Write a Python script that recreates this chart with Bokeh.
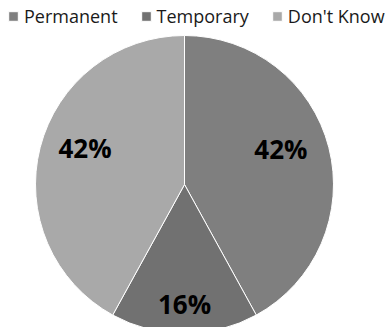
import math
from bokeh.plotting import figure
from bokeh.models import Range1d, Legend, LegendItem, ColumnDataSource
from bokeh.core.properties import value
from bokeh.embed import file_html
from bokeh.resources import INLINE

categories = ["Permanent", "Temporary", "Don't Know"]
shares = [42, 16, 42]
colors = ["#7f7f7f", "#717171", "#a9a9a9"]

W, H = 387, 327
cx, cy, R = 184, H - 184, 149

p = figure(width=W, height=H, output_backend="svg", toolbar_location=None,
           x_range=Range1d(0, W), y_range=Range1d(0, H), min_border=0)
p.axis.visible = False
p.grid.visible = False
p.outline_line_color = None
p.background_fill_color = "white"

total = sum(shares)
start = math.pi / 2
starts, ends, mids = [], [], []
for s in shares:
    a = 2 * math.pi * s / total
    starts.append(start)
    ends.append(start - a)
    mids.append(start - a / 2)
    start -= a

items = []
for i, cat in enumerate(categories):
    r = p.wedge(x=cx, y=cy, radius=R, start_angle=starts[i], end_angle=ends[i],
                direction="clock", fill_color=colors[i], line_color="white", line_width=1)
    items.append(LegendItem(label=cat, renderers=[r]))

# label placement (styling): radial factor and small angular nudge toward the top
rad_f = [0.69, 0.80, 0.71]
nudge = [math.radians(6), 0.0, math.radians(-5.5)]
lx = [cx + rad_f[i] * R * math.cos(mids[i] + nudge[i]) for i in range(len(shares))]
ly = [cy + rad_f[i] * R * math.sin(mids[i] + nudge[i]) for i in range(len(shares))]
src = ColumnDataSource(dict(x=lx, y=ly, t=[f"{s}%" for s in shares]))
p.text(x="x", y="y", text="t", source=src, text_align="center", text_baseline="middle",
       text_font=value("Open Sans"), text_font_style="bold", text_font_size="26px",
       text_color="black")

legend = Legend(items=items, orientation="horizontal", location=(7, 299),
                glyph_width=12, glyph_height=12, label_text_font="Open Sans",
                label_text_font_size="18px", label_text_color="#1a1a1a",
                border_line_color=None, background_fill_alpha=0,
                spacing=22, padding=0, margin=0, label_standoff=5)
p.add_layout(legend, "center")

open("out.html", "w").write(file_html(p, INLINE))
